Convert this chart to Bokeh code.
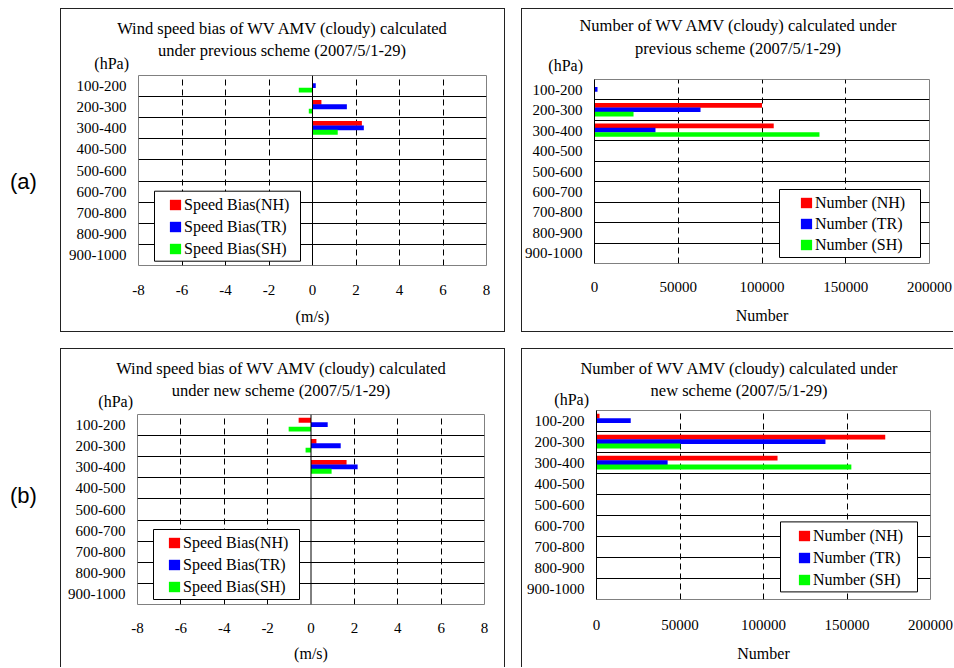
from bokeh.plotting import figure
from bokeh.models import (Range1d, FactorRange, FixedTicker, Span, Div, Row, Column, BoxAnnotation)
from bokeh.transform import dodge
from bokeh.embed import file_html
from bokeh.resources import INLINE

# ---------------- data ----------------
levels = ["100-200", "200-300", "300-400", "400-500", "500-600",
          "600-700", "700-800", "800-900", "900-1000"]

prev_bias_nh = [0.0, 0.41, 2.27, 0, 0, 0, 0, 0, 0]
prev_bias_tr = [0.15, 1.58, 2.36, 0, 0, 0, 0, 0, 0]
prev_bias_sh = [-0.63, -0.17, 1.16, 0, 0, 0, 0, 0, 0]

new_bias_nh = [-0.57, 0.25, 1.64, 0, 0, 0, 0, 0, 0]
new_bias_tr = [0.77, 1.37, 2.15, 0, 0, 0, 0, 0, 0]
new_bias_sh = [-1.03, -0.25, 0.95, 0, 0, 0, 0, 0, 0]

prev_num_nh = [0, 100000, 107000, 0, 0, 0, 0, 0, 0]
prev_num_tr = [1800, 63300, 36400, 0, 0, 0, 0, 0, 0]
prev_num_sh = [0, 23300, 134300, 0, 0, 0, 0, 0, 0]

new_num_nh = [1800, 172900, 108400, 0, 0, 0, 0, 0, 0]
new_num_tr = [20500, 137100, 42600, 0, 0, 0, 0, 0, 0]
new_num_sh = [0, 50200, 152600, 0, 0, 0, 0, 0, 0]

bias_ticks = [-8, -6, -4, -2, 0, 2, 4, 6, 8]
bias_tick_labels = ["-8", "-6", "-4", "-2", "0", "2", "4", "6", "8"]
bias_grid = [-6, -4, -2, 2, 4, 6]
num_ticks = [0, 50000, 100000, 150000, 200000]
num_tick_labels = ["0", "50000", "100000", "150000", "200000"]
num_grid = [50000, 100000, 150000]

bias_legend = ["Speed Bias(NH)", "Speed Bias(TR)", "Speed Bias(SH)"]
num_legend = ["Number (NH)", "Number (TR)", "Number (SH)"]

title_tl = ["Wind speed bias of WV AMV (cloudy) calculated", "under previous scheme (2007/5/1-29)"]
title_tr = ["Number of WV AMV (cloudy) calculated under", "previous scheme (2007/5/1-29)"]
title_bl = ["Wind speed bias of WV AMV (cloudy) calculated", "under new scheme (2007/5/1-29)"]
title_br = ["Number of WV AMV (cloudy) calculated under", "new scheme (2007/5/1-29)"]
unit_label = "(hPa)"
panel_tags = ["(a)", "(b)"]

COLORS = ["#FF0000", "#0000FF", "#00FF00"]
FONT = "Liberation Serif"
EDGE = "1px solid #222"


def title_div(width, height, lines, cx, cys, hx, hy):
    parts = []
    for line, cy in zip(lines, cys):
        parts.append(
            f'<div style="position:absolute; left:{cx - 260}px; width:520px; top:{cy - 10}px; '
            f'height:20px; line-height:20px; text-align:center; white-space:nowrap; '
            f'font-size:16.5px;">{line}</div>')
    parts.append(
        f'<div style="position:absolute; left:{hx - 100}px; width:100px; top:{hy - 10}px; '
        f'height:20px; line-height:20px; text-align:right; white-space:nowrap; '
        f'font-size:16px;">{unit_label}</div>')
    html = (f'<div style="position:relative; width:{width}px; height:{height}px; overflow:hidden; '
            f'background:white; color:black; font-family:\'{FONT}\';">' + "".join(parts) + '</div>')
    return Div(text=html, width=width, height=height, margin=0)


def chart(width, height, ml, mr, mt, mb, xr, ticks, tick_labels, grid_ticks, xlabel,
          series, legend_labels, box, legend_loc, spacing, is_bias,
          tick_standoff, label_standoff):
    p = figure(width=width, height=height, output_backend="svg", toolbar_location=None,
               y_range=FactorRange(factors=list(reversed(levels)), range_padding=0),
               x_range=Range1d(*xr), min_border_left=ml, min_border_right=mr,
               min_border_top=mt, min_border_bottom=mb)
    p.title.visible = False
    p.background_fill_color = "white"
    p.border_fill_color = "white"
    p.outline_line_color = "#808080"
    p.outline_line_width = 1

    # legend frame (white box with black border)
    p.add_layout(BoxAnnotation(left=box[0], right=box[1], bottom=box[2], top=box[3],
                               left_units="screen", right_units="screen",
                               bottom_units="screen", top_units="screen",
                               fill_color="white", fill_alpha=1.0,
                               line_color="black", line_width=1, line_alpha=1.0))

    data = dict(level=levels, a=series[0], b=series[1], c=series[2])
    offs = [0.23, 0.02, -0.19]
    for key, off, col, lab in zip(["a", "b", "c"], offs, COLORS, legend_labels):
        p.hbar(y=dodge("level", off, range=p.y_range), left=0, right=key, height=0.23,
               source=data, fill_color=col, line_color=None, legend_label=lab)

    # grids
    p.ygrid.ticker = FixedTicker(ticks=[1, 2, 3, 4, 5, 6, 7, 8, 9])
    p.ygrid.grid_line_color = "#000000"
    p.ygrid.grid_line_width = 1
    p.xgrid.ticker = FixedTicker(ticks=grid_ticks)
    p.xgrid.grid_line_color = "#000000"
    p.xgrid.grid_line_dash = "6 4"
    p.xgrid.grid_line_width = 1

    if is_bias:
        p.add_layout(Span(location=0, dimension="height", line_color="black", line_width=1))

    xa = p.xaxis[0]
    xa.ticker = FixedTicker(ticks=ticks)
    xa.major_label_overrides = {t: l for t, l in zip(ticks, tick_labels)}
    xa.axis_line_color = None
    xa.major_tick_line_color = None
    xa.minor_tick_line_color = None
    xa.major_tick_out = 0
    xa.major_tick_in = 0
    xa.major_label_standoff = tick_standoff
    xa.major_label_text_font = FONT
    xa.major_label_text_font_size = "15px"
    xa.major_label_text_color = "black"
    xa.axis_label = xlabel
    xa.axis_label_text_font = FONT
    xa.axis_label_text_font_style = "normal"
    xa.axis_label_text_font_size = "16px"
    xa.axis_label_text_color = "black"
    xa.axis_label_standoff = label_standoff

    ya = p.yaxis[0]
    ya.axis_line_color = None if is_bias else "black"
    ya.major_tick_line_color = None
    ya.minor_tick_line_color = None
    ya.major_tick_out = 0
    ya.major_tick_in = 0
    ya.major_label_standoff = 12
    ya.major_label_text_font = FONT
    ya.major_label_text_font_size = "15px"
    ya.major_label_text_color = "black"

    lg = p.legend[0]
    lg.location = legend_loc
    lg.border_line_color = None
    lg.background_fill_alpha = 0.0
    lg.label_text_font = FONT
    lg.label_text_font_size = "16px"
    lg.label_text_color = "black"
    lg.glyph_width = 14
    lg.glyph_height = 13
    lg.label_standoff = 2
    lg.label_height = 19
    lg.spacing = spacing
    lg.padding = 0
    lg.margin = 0
    return p


# top-left: previous scheme, bias
tl = Column(children=[
    title_div(443, 65, title_tl, 221, [20, 41.5], 68, 55),
    chart(443, 257, 77, 18, 1, 66, (-8, 8), bias_ticks, bias_tick_labels, bias_grid, "(m/s)",
          [prev_bias_nh, prev_bias_tr, prev_bias_sh], bias_legend,
          (16, 162, 4.3, 74.3), (30, 7), 3, True, 19, 10)],
    spacing=0, styles={"border": EDGE})

# top-right: previous scheme, number
tr = Column(children=[
    title_div(431, 69, title_tr, 216, [16.7, 40.3], 61, 57),
    chart(431, 253, 72, 24, 1, 68, (0, 200000), num_ticks, num_tick_labels, num_grid, "Number",
          [prev_num_nh, prev_num_tr, prev_num_sh], num_legend,
          (185, 326, 6, 74), (205, 9), 2, False, 18, 12)],
    spacing=0, styles={"border-top": EDGE, "border-left": EDGE, "border-bottom": EDGE})

# bottom-left: new scheme, bias
bl = Column(children=[
    title_div(443, 64, title_bl, 220, [20, 42], 72, 53),
    chart(443, 254, 76, 20, 1, 63, (-8, 8), bias_ticks, bias_tick_labels, bias_grid, "(m/s)",
          [new_bias_nh, new_bias_tr, new_bias_sh], bias_legend,
          (16, 162, 5, 75), (30, 8), 3, True, 18, 9)],
    spacing=0, styles={"border-top": EDGE, "border-left": EDGE, "border-right": EDGE})

# bottom-right: new scheme, number
br = Column(children=[
    title_div(431, 60, title_br, 217, [20.3, 41.7], 67, 51),
    chart(431, 258, 74, 23, 1, 68, (0, 200000), num_ticks, num_tick_labels, num_grid, "Number",
          [new_num_nh, new_num_tr, new_num_sh], num_legend,
          (184, 321, 7.6, 77.6), (201, 10), 3, False, 20, 12)],
    spacing=0, styles={"border-top": EDGE, "border-left": EDGE})

tag_style = "position:relative; left:2px; font-family:'Liberation Sans'; font-size:22px; color:black;"
div_a = Div(text=f'<div style="{tag_style} top:158px;">{panel_tags[0]}</div>',
            width=52, height=340, margin=0)
div_b = Div(text=f'<div style="{tag_style} top:132px;">{panel_tags[1]}</div>',
            width=52, height=312, margin=0)

left_col = Column(children=[div_a, div_b], spacing=0)
right_col = Column(children=[Row(children=[tl, tr], spacing=16),
                             Row(children=[bl, br], spacing=16)], spacing=16)
layout = Row(children=[left_col, right_col], spacing=0, margin=(8, 0, 0, 8))

open("out.html", "w").write(file_html(layout, INLINE))
